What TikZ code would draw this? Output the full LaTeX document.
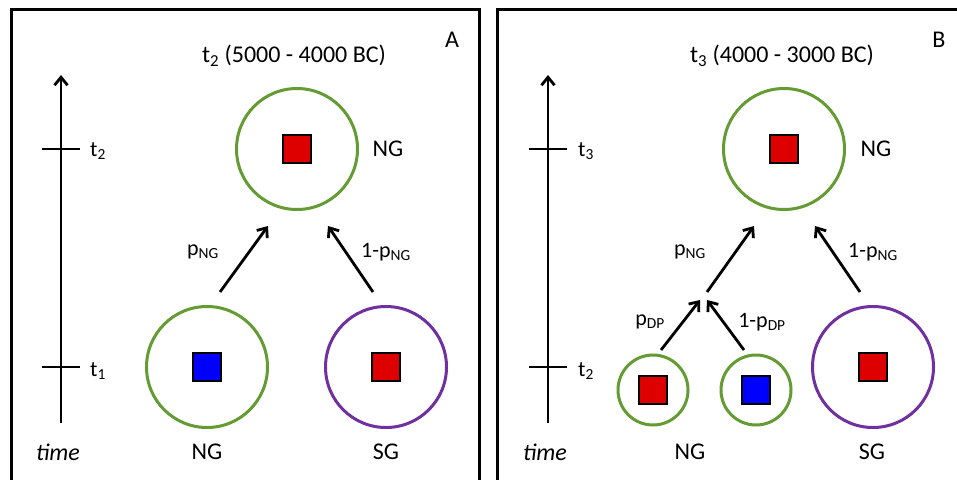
\documentclass[tikz,border=0pt]{standalone}
\usepackage{fontspec}
\setmainfont{Carlito}
\usetikzlibrary{arrows.meta}
\definecolor{ggreen}{RGB}{100,155,50}
\definecolor{gpurple}{RGB}{112,48,160}
\definecolor{gred}{RGB}{222,0,0}
\definecolor{gblue}{RGB}{0,0,255}
\tikzset{
  frame/.style={draw=black, line width=3pt},
  bigcirc/.style={circle, line width=3pt, minimum size=121pt, inner sep=0pt},
  smallcirc/.style={circle, line width=3pt, minimum size=70pt, inner sep=0pt},
  gcirc/.style={draw=ggreen},
  pcirc/.style={draw=gpurple},
  sq/.style={rectangle, draw=black, line width=2.4pt, minimum size=28pt, inner sep=0pt},
  lbl/.style={font=\fontsize{24}{27}\selectfont, inner sep=0pt},
  slbl/.style={font=\fontsize{22}{25}\selectfont, inner sep=0pt},
  axis/.style={line width=2.8pt, -{Straight Barb[length=8pt,width=13pt,line width=2.8pt]}},
  tick/.style={line width=2.2pt},
  flow/.style={line width=2.8pt, -{Straight Barb[length=8pt,width=13pt,line width=2.8pt]}}
}
\begin{document}
\begin{tikzpicture}[x=1pt,y=-1pt]
\clip (0,0) rectangle (957,479);
\fill[white] (0,0) rectangle (957,479);
% frames
\draw[frame] (11,9) rectangle (479,500);
\draw[frame] (497,9) rectangle (980,500);

% ===== Panel A =====
\node[lbl] (A) at (452,40) {A};
\node[lbl] (titleA) at (294,56) {t\textsubscript{2} (5000 - 4000 BC)};
\coordinate (axA0) at (61,423);
\coordinate (axA1) at (61,75);
\draw[axis] (axA0) -- (axA1);
\coordinate (tkA2l) at (42,149); \coordinate (tkA2r) at (80,149);
\coordinate (tkA1l) at (42,367); \coordinate (tkA1r) at (80,367);
\draw[tick] (tkA2l) -- (tkA2r);
\draw[tick] (tkA1l) -- (tkA1r);
\node[slbl, anchor=west] (tA2) at (90,151) {t\textsubscript{2}};
\node[slbl, anchor=west] (tA1) at (90,371) {t\textsubscript{1}};
\node[lbl] (timeA) at (58,452) {\itshape time};

\node[bigcirc, gcirc] (topA) at (297,149) {};
\node[sq, fill=gred] (sqtopA) at (297,149) {};
\node[lbl] (ngtopA) at (388,149) {NG};

\node[bigcirc, gcirc] (blA) at (207,367) {};
\node[sq, fill=gblue] (sqblA) at (207,367) {};
\node[bigcirc, pcirc] (brA) at (386,367) {};
\node[sq, fill=gred] (sqbrA) at (386,367) {};
\node[lbl] (ngA) at (207,452) {NG};
\node[lbl] (sgA) at (386,452) {SG};

\coordinate (a1s) at (220,292); \coordinate (a1e) at (268,226);
\coordinate (a2s) at (373,292); \coordinate (a2e) at (328,226);
\draw[flow] (a1s) -- (a1e);
\draw[flow] (a2s) -- (a2e);
\node[slbl] (pngA) at (203,252) {p\textsubscript{NG}};
\node[slbl] (qngA) at (386,252) {1-p\textsubscript{NG}};

% ===== Panel B =====
\node[lbl] (B) at (939,40) {B};
\node[lbl] (titleB) at (782,56) {t\textsubscript{3} (4000 - 3000 BC)};
\coordinate (axB0) at (548,423);
\coordinate (axB1) at (548,75);
\draw[axis] (axB0) -- (axB1);
\coordinate (tkB3l) at (529,149); \coordinate (tkB3r) at (567,149);
\coordinate (tkB2l) at (529,367); \coordinate (tkB2r) at (567,367);
\draw[tick] (tkB3l) -- (tkB3r);
\draw[tick] (tkB2l) -- (tkB2r);
\node[slbl, anchor=west] (tB3) at (578,151) {t\textsubscript{3}};
\node[slbl, anchor=west] (tB2) at (578,371) {t\textsubscript{2}};
\node[lbl] (timeB) at (545,452) {\itshape time};

\node[bigcirc, gcirc] (topB) at (784,149) {};
\node[sq, fill=gred] (sqtopB) at (784,149) {};
\node[lbl] (ngtopB) at (876,149) {NG};

\node[smallcirc, gcirc] (s1B) at (653,390) {};
\node[sq, fill=gred] (sqs1B) at (653,390) {};
\node[smallcirc, gcirc] (s2B) at (756,390) {};
\node[sq, fill=gblue] (sqs2B) at (756,390) {};
\node[bigcirc, pcirc] (brB) at (873,367) {};
\node[sq, fill=gred] (sqbrB) at (873,367) {};
\node[lbl] (ngB) at (690,452) {NG};
\node[lbl] (sgB) at (872,452) {SG};

\coordinate (b1s) at (661,350); \coordinate (b1e) at (700,300);
\coordinate (b2s) at (744,350); \coordinate (b2e) at (707,300);
\draw[flow] (b1s) -- (b1e);
\draw[flow] (b2s) -- (b2e);
\node[slbl] (pdpB) at (650,322) {p\textsubscript{DP}};
\node[slbl] (qdpB) at (762,322) {1-p\textsubscript{DP}};

\coordinate (b3s) at (707,292); \coordinate (b3e) at (754,226);
\coordinate (b4s) at (860,292); \coordinate (b4e) at (815,226);
\draw[flow] (b3s) -- (b3e);
\draw[flow] (b4s) -- (b4e);
\node[slbl] (pngB) at (690,252) {p\textsubscript{NG}};
\node[slbl] (qngB) at (873,252) {1-p\textsubscript{NG}};
\end{tikzpicture}
\end{document}
